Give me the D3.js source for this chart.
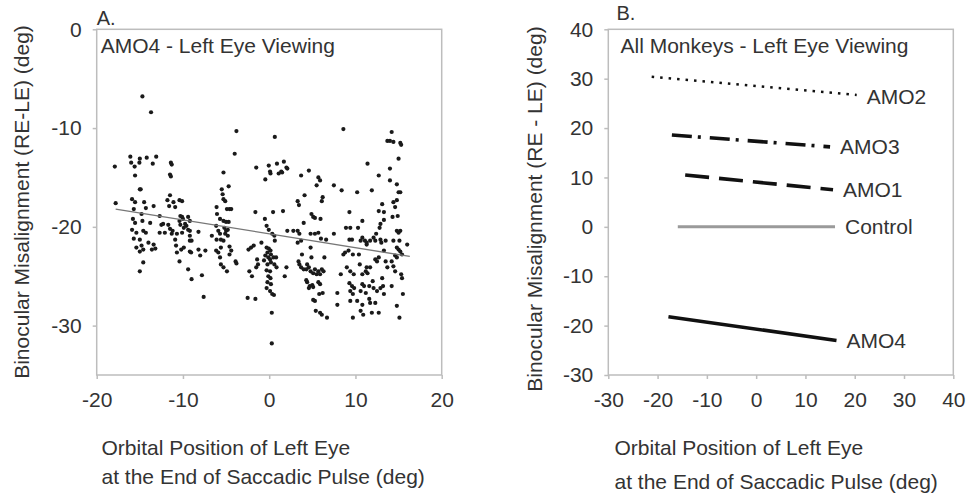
<!DOCTYPE html>
<html>
<head>
<meta charset="utf-8">
<script src="https://cdn.jsdelivr.net/npm/d3@7"></script>
<style>
  body { margin: 0; background: #fff; }
  svg text { font-family: "Liberation Sans", Arial, sans-serif; fill: #333; }
</style>
</head>
<body>
<div id="chart"></div>
<script>
// Panel A: AMO4 left eye viewing, one point per saccade [orbital position, misalignment]
const amo4Points = [
  [-17.9,-13.9],[-17.8,-17.6],
  [-16.1,-12.9],[-16.0,-13.5],[-15.6,-13.9],[-15.0,-13.1],[-15.05,-13.5],[-14.7,-6.8],[-13.7,-8.4],[-14.2,-13.0],[-13.5,-13.6],[-13.1,-12.9],
  [-15.55,-14.8],[-15.0,-16.2],[-14.9,-16.2],[-15.9,-17.2],[-15.55,-17.5],[-14.5,-17.5],[-14.3,-18.1],[-13.4,-17.9],[-15.7,-18.2],[-14.8,-18.7],
  [-15.8,-19.2],[-15.55,-19.6],[-14.7,-19.4],[-13.8,-19.6],[-15.9,-20.3],[-15.4,-20.6],[-14.6,-20.4],[-14.3,-20.6],[-15.7,-21.2],[-15.0,-21.3],
  [-14.0,-21.6],[-13.4,-21.8],[-13.2,-22.2],[-15.4,-22.1],[-14.8,-21.9],[-14.6,-22.3],[-15.0,-22.5],[-13.6,-22.3],[-14.6,-23.6],[-15.0,-24.5],
  [-12.7,-18.9],[-12.5,-19.8],[-12.7,-20.6],
  [-11.4,-13.5],[-11.3,-13.7],[-11.5,-14.7],[-11.4,-14.9],[-11.5,-16.8],[-11.8,-17.3],[-11.1,-17.5],[-11.6,-17.9],[-10.9,-18.0],
  [-12.3,-19.7],[-11.7,-19.8],[-11.5,-20.2],[-11.2,-20.4],[-12.1,-20.6],[-11.3,-20.7],[-10.9,-21.3],[-10.8,-21.9],
  [-10.4,-17.3],[-10.1,-17.4],[-10.3,-18.9],[-10.0,-19.2],[-10.1,-19.0],[-10.4,-19.4],[-9.75,-19.7],[-10.3,-19.8],[-9.9,-20.1],[-9.6,-19.9],
  [-9.4,-19.0],[-9.2,-19.4],[-10.7,-20.7],[-10.1,-20.6],[-9.4,-20.3],[-9.2,-20.4],[-10.2,-22.3],[-9.9,-22.1],[-10.7,-22.6],[-10.4,-23.5],
  [-9.2,-20.9],[-9.2,-21.4],[-9.0,-21.4],[-9.2,-22.5],[-9.05,-22.6],[-8.2,-20.5],[-8.2,-22.3],[-9.4,-24.3],[-9.0,-25.3],[-8.0,-22.9],
  [-7.8,-24.9],[-7.6,-27.1],[-7.4,-22.4],
  [-6.65,-20.9],[-6.1,-18.0],[-6.05,-18.7],[-5.7,-19.2],[-6.15,-19.9],[-5.9,-20.4],[-5.7,-20.7],[-6.1,-21.3],[-5.6,-21.3],[-6.15,-22.4],
  [-5.9,-22.6],[-5.6,-22.1],[-5.5,-16.2],[-5.4,-16.7],[-5.3,-14.5],[-5.3,-17.2],[-5.1,-17.4],[-4.9,-18.2],[-4.7,-15.9],[-4.6,-18.2],
  [-4.4,-18.2],[-5.3,-19.4],[-5.0,-19.5],[-4.7,-19.5],[-5.2,-20.1],[-5.0,-20.4],[-4.8,-20.3],[-5.1,-20.7],[-4.8,-20.9],[-5.3,-21.4],
  [-4.6,-22.0],[-4.4,-22.4],[-5.7,-23.1],[-5.6,-23.8],[-5.3,-24.1],[-4.9,-24.5],[-4.6,-22.8],[-3.9,-23.5],[-3.8,-23.7],[-4.0,-12.6],[-3.8,-10.3],
  [-2.4,-22.3],[-2.1,-22.1],[-1.8,-21.9],[-2.3,-24.5],[-2.0,-25.0],[-1.4,-23.3],[-1.3,-23.8],[-1.5,-24.1],[-1.5,-14.0],[-1.6,-18.5],
  [-2.5,-27.2],[-1.6,-27.3],[-0.9,-21.6],
  [-0.45,-15.2],[-0.05,-13.8],[0.15,-14.6],[0.1,-14.4],[-0.5,-19.2],[-0.3,-19.9],[-0.05,-20.3],[0.35,-20.7],[0.6,-20.9],[0.45,-18.5],
  [0.65,-10.9],[-0.3,-22.1],[-0.05,-22.2],[0.15,-22.4],[-0.2,-22.6],[0.2,-22.8],[-0.45,-22.9],[-0.1,-23.1],[0.1,-23.3],[0.5,-23.1],
  [0.8,-23.1],[-0.6,-23.4],[0.2,-23.6],[-0.2,-23.8],[0.6,-23.8],[-0.3,-24.4],[0.1,-24.5],[-0.1,-25.0],[0.15,-25.2],[-0.2,-25.6],
  [0.2,-25.8],[-0.3,-26.2],[0.1,-26.5],[0.35,-26.8],[0.55,-26.9],[0.3,-28.7],[0.3,-31.8],[0.85,-24.1],[0.65,-21.4],
  [0.9,-13.6],[1.1,-14.6],[1.4,-14.4],[1.5,-14.5],[1.7,-13.4],[2.0,-14.0],[2.1,-14.1],[1.6,-18.4],[1.8,-25.0],[2.0,-24.1],[2.1,-20.4],[2.8,-20.4],
  [3.7,-14.8],[3.3,-17.4],[3.45,-17.8],[3.3,-20.4],[3.5,-20.7],[3.7,-21.4],[3.3,-21.6],[4.0,-19.6],[4.1,-16.8],[3.8,-22.8],
  [3.5,-23.8],[3.7,-24.1],[3.4,-23.5],[4.0,-24.3],
  [4.6,-14.3],[4.4,-23.8],[4.3,-24.3],[4.6,-24.1],[4.3,-25.4],[4.4,-25.6],[4.7,-26.0],[5.0,-25.9],[5.1,-26.1],[4.6,-26.2],
  [4.8,-24.5],[5.1,-24.7],[5.3,-24.3],[5.5,-24.8],[4.8,-22.1],[4.9,-23.1],[4.8,-20.7],[5.3,-20.7],[5.7,-20.6],[4.9,-18.7],
  [5.1,-19.0],[5.3,-19.1],[5.5,-15.8],[5.7,-15.0],[5.9,-15.3],[6.1,-17.4],[6.2,-17.0],[5.95,-19.2],[6.0,-21.2],[5.1,-27.4],
  [5.3,-27.5],[5.4,-28.5],[5.9,-28.7],[6.1,-28.9],[5.7,-25.6],[5.9,-25.8],[5.7,-24.5],[5.9,-24.8],[6.1,-24.3],[6.3,-24.5],
  [5.8,-26.8],[6.2,-26.7],[6.7,-29.2],[6.4,-23.1],[6.6,-21.3],
  [7.5,-15.8],[7.5,-20.7],[7.9,-26.7],[7.9,-27.9],[8.4,-16.3],[8.6,-10.1],[8.3,-24.8],[8.8,-22.6],[8.6,-22.8],[9.0,-24.1],[8.9,-20.1],
  [9.3,-18.5],[9.4,-20.1],[9.3,-21.3],[9.6,-21.3],[9.2,-22.4],[9.7,-22.8],[9.4,-24.5],[9.8,-24.8],[9.3,-25.7],[9.6,-26.0],
  [9.85,-26.2],[9.4,-26.5],[9.7,-26.8],[9.4,-27.5],[9.7,-29.2],[10.2,-27.5],[10.2,-16.5],[10.3,-20.1],[10.6,-21.4],[10.8,-21.1],
  [10.8,-19.4],[10.4,-22.8],[10.5,-23.8],[10.8,-24.8],[10.8,-25.8],[11.0,-26.0],[10.6,-26.5],[11.2,-26.7],[10.8,-27.9],[10.6,-28.5],
  [10.9,-28.9],[11.1,-21.4],[11.3,-21.8],[11.3,-21.6],[11.2,-24.5],[11.3,-24.1],[11.4,-24.7],[11.6,-26.0],[11.4,-13.6],[11.7,-21.4],
  [11.7,-24.1],[11.6,-27.3],[11.7,-27.7],
  [11.9,-16.3],[12.1,-21.1],[12.3,-21.4],[12.4,-20.7],[12.3,-23.3],[12.1,-26.2],[12.0,-25.5],[12.5,-26.5],[12.3,-27.7],[12.7,-28.7],
  [11.9,-28.7],[12.7,-14.8],[12.7,-18.4],[12.8,-20.1],[12.9,-19.7],[12.9,-21.3],[13.0,-21.6],[12.7,-23.1],[12.5,-23.5],[13.1,-25.2],
  [12.9,-26.2],[13.2,-26.0],[13.3,-26.8],[13.1,-17.7],[13.3,-18.5],[13.3,-19.3],[13.5,-21.4],[13.3,-22.4],[13.5,-23.5],[13.7,-24.1],
  [13.7,-11.3],[14.0,-11.3],[14.2,-10.4],[14.4,-11.4],[15.2,-11.5],[15.3,-11.7],[14.0,-14.1],[14.0,-15.3],[14.4,-17.5],[14.3,-19.0],
  [14.6,-18.0],[14.8,-17.3],[14.8,-15.7],[15.0,-16.5],[15.2,-16.5],[15.0,-13.1],[14.4,-21.4],[14.6,-22.9],[14.8,-23.1],[14.4,-24.0],
  [14.2,-23.5],[14.6,-24.5],[14.2,-26.0],[14.8,-28.0],[15.1,-29.2],[14.8,-20.4],[15.0,-20.6],[15.2,-20.4],[14.8,-22.1],[15.0,-22.3],
  [15.2,-22.5],[15.4,-22.8],[15.1,-21.4],[15.3,-24.8],[15.4,-25.2],[15.5,-26.8],[16.0,-21.8],[14.9,-18.9]
];

// regression lines, one per animal: start/end of orbital position and misalignment
const lineNames = ["AMO2", "AMO3", "AMO1", "Control", "AMO4"];
const lineX0 = [-21.2, -17.1, -14.4, -15.9, -17.8];
const lineX1 = [20.4, 15.0, 15.6, 16.0, 16.3];
const lineY0 = [30.4, 18.6, 10.5, 0, -18.2];
const lineY1 = [26.7, 16.2, 7.5, 0, -23.0];

const ticksAX = [-20, -10, 0, 10, 20];
const ticksAY = [0, -10, -20, -30];
const ticksBX = [-30, -20, -10, 0, 10, 20, 30, 40];
const ticksBY = [40, 30, 20, 10, 0, -10, -20, -30];

const W = 972, H = 497;
const svg = d3.select("#chart").append("svg")
    .attr("width", W)
    .attr("height", H);

const plotTop = 29.3, plotBottom = 375;
const frameColor = "#bdbdbd";
const fs = 21;

function drawFrame(x, y, xTicks, yTicks) {
    const [x0, x1] = x.range();
    svg.append("rect")
        .attr("x", x0).attr("y", plotTop)
        .attr("width", x1 - x0).attr("height", plotBottom - plotTop)
        .attr("fill", "none")
        .attr("stroke", frameColor)
        .attr("stroke-width", 1.5);

    // plain hyphen for negatives, like the original figure
    const fmt = d => String(d);
    const xa = svg.append("g")
        .attr("transform", `translate(0,${plotBottom})`)
        .call(d3.axisBottom(x).tickValues(xTicks).tickSize(4).tickPadding(13).tickFormat(fmt));
    const ya = svg.append("g")
        .attr("transform", `translate(${x0},0)`)
        .call(d3.axisLeft(y).tickValues(yTicks).tickSize(4).tickPadding(11).tickFormat(fmt));
    [xa, ya].forEach(g => {
        g.select(".domain").remove();
        g.selectAll(".tick line").attr("stroke", frameColor).attr("stroke-width", 1.5);
        g.selectAll(".tick text")
            .style("font-size", fs + "px")
            .style("font-family", "'Liberation Sans', Arial, sans-serif")
            .attr("fill", "#333");
    });
}

function addTitles(x0, letter, letterY, inner, ytitle, ytx, yty, xtx, xline2) {
    svg.append("text").attr("x", x0).attr("y", letterY).style("font-size", "20px").text(letter);
    svg.append("text").attr("x", x0 + 4).attr("y", 53).style("font-size", fs + "px").text(inner);
    svg.append("text")
        .attr("transform", `translate(${ytx},${yty}) rotate(-90)`)
        .attr("text-anchor", "middle")
        .attr("dy", "0.35em")
        .style("font-size", fs + "px")
        .text(ytitle);
    svg.append("text").attr("x", xtx).attr("y", 455).style("font-size", fs + "px").text("Orbital Position of Left Eye");
    svg.append("text").attr("x", xtx).attr("y", xline2).style("font-size", fs + "px").text("at the End of Saccadic Pulse (deg)");
}

// ---- Panel A ----
const xA = d3.scaleLinear().domain([-20, 20]).range([96.7, 441.7]);
const yA = d3.scaleLinear().domain([-35, 0]).range([plotBottom, plotTop]);
drawFrame(xA, yA, ticksAX, ticksAY);

svg.append("g").selectAll("circle")
    .data(amo4Points)
    .enter().append("circle")
    .attr("cx", d => xA(d[0]))
    .attr("cy", d => yA(d[1]))
    .attr("r", 2.1)
    .attr("fill", "#1a1a1a");

const i4 = lineNames.indexOf("AMO4");
svg.append("line")
    .attr("x1", xA(lineX0[i4])).attr("y1", yA(lineY0[i4]))
    .attr("x2", xA(lineX1[i4])).attr("y2", yA(lineY1[i4]))
    .attr("stroke", "#777")
    .attr("stroke-width", 1.3);

addTitles(96.7, "A.", 25, "AMO4 - Left Eye Viewing",
    "Binocular Misalignment (RE-LE) (deg)", 21.5, 202, 101.5, 484);

// ---- Panel B ----
const xB = d3.scaleLinear().domain([-30, 40]).range([608.3, 953.3]);
const yB = d3.scaleLinear().domain([-30, 40]).range([plotBottom, plotTop]);
drawFrame(xB, yB, ticksBX, ticksBY);

const styles = {
    "AMO2": { color: "#111", width: 2.6, dash: "2.5 6" },
    "AMO3": { color: "#111", width: 3.6, dash: "20 6 3 9" },
    "AMO1": { color: "#111", width: 3.6, dash: "24 10" },
    "Control": { color: "#9a9a9a", width: 3, dash: null },
    "AMO4": { color: "#111", width: 3.6, dash: null }
};

lineNames.forEach((name, i) => {
    const s = styles[name];
    svg.append("line")
        .attr("x1", xB(lineX0[i])).attr("y1", yB(lineY0[i]))
        .attr("x2", xB(lineX1[i])).attr("y2", yB(lineY1[i]))
        .attr("stroke", s.color)
        .attr("stroke-width", s.width)
        .attr("stroke-dasharray", s.dash);
    svg.append("text")
        .attr("x", xB(lineX1[i]) + 10)
        .attr("y", yB(lineY1[i]) + (name === "AMO2" ? 2 : 0))
        .attr("dy", "0.35em")
        .style("font-size", fs + "px")
        .text(name);
});

addTitles(616.5, "B.", 20, "All Monkeys - Left Eye Viewing",
    "Binocular Misalignment (RE - LE) (deg)", 535, 209, 614.5, 489);
</script>
</body>
</html>
